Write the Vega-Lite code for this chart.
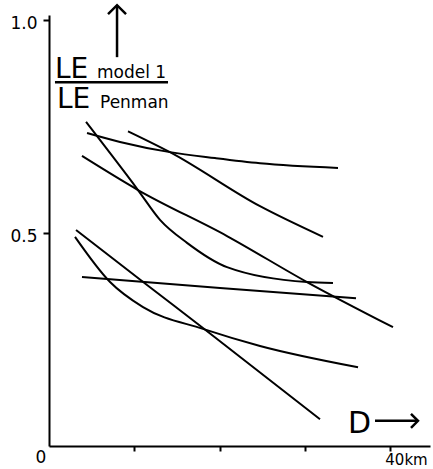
{
  "$schema": "https://vega.github.io/schema/vega-lite/v6.json",
  "autosize": {"type": "none"},
  "width": 381,
  "height": 431,
  "padding": {"left": 49, "top": 15, "right": 3, "bottom": 23},
  "background": "white",
  "config": {"view": {"stroke": null}, "font": "DejaVu Sans"},
  "datasets": {
    "curves": [
      {"curve": "A", "km": 4.46, "ratio": 0.735},
      {"curve": "A", "km": 8.33, "ratio": 0.714},
      {"curve": "A", "km": 14.19, "ratio": 0.69},
      {"curve": "A", "km": 19.47, "ratio": 0.676},
      {"curve": "A", "km": 24.75, "ratio": 0.664},
      {"curve": "A", "km": 33.9, "ratio": 0.653},
      {"curve": "B", "km": 9.27, "ratio": 0.739},
      {"curve": "B", "km": 14.19, "ratio": 0.69},
      {"curve": "B", "km": 24.75, "ratio": 0.563},
      {"curve": "B", "km": 32.14, "ratio": 0.491},
      {"curve": "C", "km": 4.34, "ratio": 0.761},
      {"curve": "C", "km": 10.44, "ratio": 0.601},
      {"curve": "C", "km": 13.02, "ratio": 0.531},
      {"curve": "C", "km": 16.19, "ratio": 0.477},
      {"curve": "C", "km": 20.88, "ratio": 0.42},
      {"curve": "C", "km": 30.26, "ratio": 0.385},
      {"curve": "C", "km": 33.31, "ratio": 0.383},
      {"curve": "D", "km": 3.87, "ratio": 0.681},
      {"curve": "D", "km": 10.44, "ratio": 0.601},
      {"curve": "D", "km": 20.88, "ratio": 0.493},
      {"curve": "D", "km": 30.26, "ratio": 0.385},
      {"curve": "D", "km": 40.35, "ratio": 0.279},
      {"curve": "E", "km": 3.87, "ratio": 0.397},
      {"curve": "E", "km": 20.06, "ratio": 0.371},
      {"curve": "E", "km": 36.01, "ratio": 0.347},
      {"curve": "F", "km": 3.05, "ratio": 0.491},
      {"curve": "F", "km": 7.16, "ratio": 0.385},
      {"curve": "F", "km": 11.03, "ratio": 0.326},
      {"curve": "F", "km": 18.06, "ratio": 0.275},
      {"curve": "F", "km": 24.75, "ratio": 0.235},
      {"curve": "F", "km": 36.25, "ratio": 0.185},
      {"curve": "G", "km": 3.17, "ratio": 0.507},
      {"curve": "G", "km": 11.5, "ratio": 0.378},
      {"curve": "G", "km": 18.06, "ratio": 0.277},
      {"curve": "G", "km": 31.79, "ratio": 0.063}
    ],
    "rules": [
      {"name": "fraction", "x": 0.7, "x2": 13.96, "y": 0.854, "y2": 0.854},
      {"name": "uparrow", "x": 7.98, "x2": 7.98, "y": 0.913, "y2": 1.035},
      {"name": "darrow", "x": 38.24, "x2": 43.28, "y": 0.059, "y2": 0.059}
    ],
    "heads_up": [{"x": 7.98, "y": 1.035}],
    "heads_right": [{"x": 43.28, "y": 0.059}],
    "big_text": [
      {"label": "LE", "x": 0.7, "y": 0.864},
      {"label": "LE", "x": 0.94, "y": 0.793}
    ],
    "small_text": [
      {"label": "model 1", "x": 5.63, "y": 0.864},
      {"label": "Penman", "x": 5.98, "y": 0.793}
    ],
    "d_text": [{"label": "D", "x": 35.07, "y": 0.031}],
    "zero_text": [{"label": "0", "x": 0, "y": 0}]
  },
  "layer": [
    {
      "data": {"name": "curves"},
      "mark": {"type": "line", "color": "black", "strokeWidth": 2, "interpolate": "monotone"},
      "encoding": {
        "x": {
          "field": "km", "type": "quantitative",
          "scale": {"domain": [0, 44.69], "nice": false, "zero": false},
          "axis": {
            "title": null, "grid": false, "values": [10, 20, 30, 40],
            "domainColor": "black", "domainWidth": 2,
            "tickColor": "black", "tickWidth": 2, "tickSize": 5,
            "labelExpr": "datum.value == 40 ? '40km' : ''",
            "labelAlign": "center", "labelOffset": 16, "labelPadding": 1,
            "labelFlush": false, "labelBound": false, "labelOverlap": false,
            "labelFontSize": 15, "labelColor": "black", "labelFont": "DejaVu Sans"
          }
        },
        "y": {
          "field": "ratio", "type": "quantitative",
          "scale": {"domain": [0, 1.012], "nice": false},
          "axis": {
            "title": null, "grid": false, "values": [0.5, 1.0], "format": ".1f",
            "domainColor": "black", "domainWidth": 2,
            "tickColor": "black", "tickWidth": 2, "tickSize": 6,
            "labelPadding": 6, "labelOffset": 3,
            "labelFontSize": 17, "labelColor": "black", "labelFont": "DejaVu Sans"
          }
        },
        "detail": {"field": "curve"}
      }
    },
    {
      "data": {"name": "rules"},
      "mark": {"type": "rule", "color": "black", "strokeWidth": 2.5},
      "encoding": {
        "x": {"field": "x", "type": "quantitative"},
        "x2": {"field": "x2"},
        "y": {"field": "y", "type": "quantitative"},
        "y2": {"field": "y2"}
      }
    },
    {
      "data": {"name": "heads_up"},
      "mark": {"type": "point", "shape": "M-1,1L0,0L1,1", "size": 324, "filled": false, "color": "black", "strokeWidth": 2.5, "opacity": 1},
      "encoding": {
        "x": {"field": "x", "type": "quantitative"},
        "y": {"field": "y", "type": "quantitative"}
      }
    },
    {
      "data": {"name": "heads_right"},
      "mark": {"type": "point", "shape": "M-1,-1L0,0L-1,1", "size": 196, "filled": false, "color": "black", "strokeWidth": 2.5, "opacity": 1},
      "encoding": {
        "x": {"field": "x", "type": "quantitative"},
        "y": {"field": "y", "type": "quantitative"}
      }
    },
    {
      "data": {"name": "big_text"},
      "mark": {"type": "text", "align": "left", "baseline": "alphabetic", "fontSize": 28, "color": "black", "font": "DejaVu Sans"},
      "encoding": {
        "x": {"field": "x", "type": "quantitative"},
        "y": {"field": "y", "type": "quantitative"},
        "text": {"field": "label"}
      }
    },
    {
      "data": {"name": "small_text"},
      "mark": {"type": "text", "align": "left", "baseline": "alphabetic", "fontSize": 17, "color": "black", "font": "DejaVu Sans"},
      "encoding": {
        "x": {"field": "x", "type": "quantitative"},
        "y": {"field": "y", "type": "quantitative"},
        "text": {"field": "label"}
      }
    },
    {
      "data": {"name": "d_text"},
      "mark": {"type": "text", "align": "left", "baseline": "alphabetic", "fontSize": 30, "color": "black", "font": "DejaVu Sans"},
      "encoding": {
        "x": {"field": "x", "type": "quantitative"},
        "y": {"field": "y", "type": "quantitative"},
        "text": {"field": "label"}
      }
    },
    {
      "data": {"name": "zero_text"},
      "mark": {"type": "text", "align": "center", "baseline": "middle", "fontSize": 17, "dx": -8, "dy": 12, "color": "black", "font": "DejaVu Sans"},
      "encoding": {
        "x": {"field": "x", "type": "quantitative"},
        "y": {"field": "y", "type": "quantitative"},
        "text": {"field": "label"}
      }
    }
  ]
}
